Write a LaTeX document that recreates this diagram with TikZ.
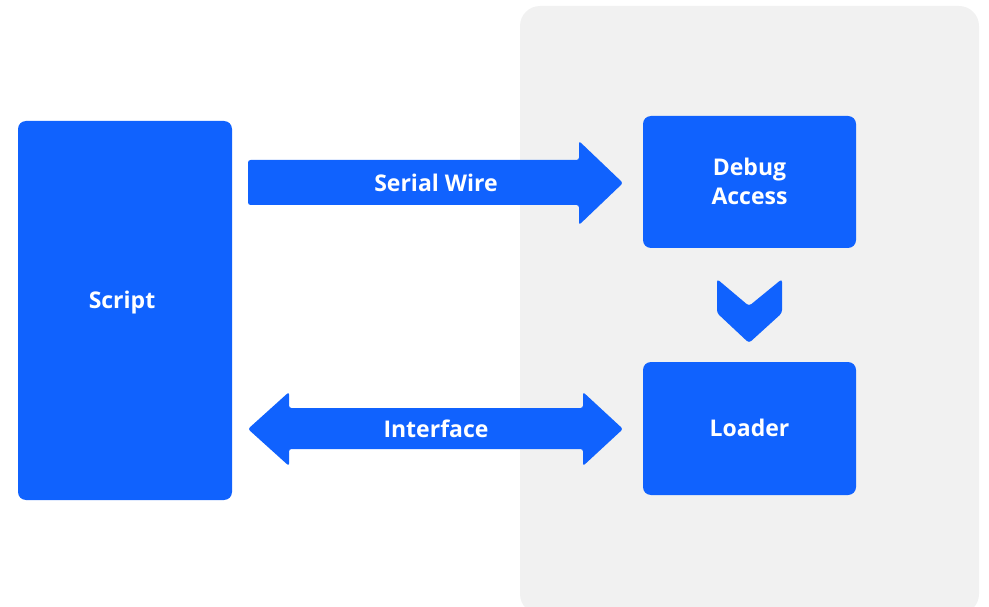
\documentclass[tikz,border=0pt]{standalone}
\usepackage{fontspec}
\setmainfont{Open Sans}
\definecolor{brandblue}{HTML}{1062FE}
\definecolor{panelgray}{HTML}{F1F1F1}
\begin{document}
\begin{tikzpicture}[x=1pt,y=-1pt,
  block/.style={fill=brandblue, rounded corners=8pt},
  label/.style={text=white, font=\fontsize{23}{29}\selectfont\bfseries, align=center},
  bigarrow/.style={fill=brandblue, rounded corners=2.5pt}]
  \useasboundingbox (0,0) rectangle (989,607);
  % right-hand panel
  \begin{scope}
    \clip (0,0) rectangle (989,607);
    \fill[panelgray, rounded corners=20pt] (520,6) rectangle (979,614);
  \end{scope}
  % boxes
  \fill[block] (18,121) rectangle (232,500);
  \node[label] (script) at (122,303) {Script};
  \fill[block] (643,116) rectangle (856,248);
  \node[label] (debug) at (749.5,181) {Debug\\Access};
  \fill[block] (643,362) rectangle (856,495);
  \node[label] (loader) at (749.5,428) {Loader};
  % serial wire arrow
  \fill[bigarrow] (248,160) -- (579,160) -- (579,141) -- (623,183)
    -- (579,225) -- (579,205) -- (248,205) -- cycle;
  \node[label] (serial) at (436,183) {Serial Wire};
  % interface double arrow
  \fill[bigarrow] (248,429) -- (289,392) -- (289,408) -- (583,408) -- (583,392)
    -- (623,429) -- (583,466) -- (583,449) -- (289,449) -- (289,466) -- cycle;
  \node[label] (iface) at (436,429) {Interface};
  % chevron between the two right boxes
  \fill[brandblue, rounded corners=3pt] (717,279) -- (749,306) -- (782,279)
    -- (782,313) -- (749,343) -- (717,313) -- cycle;
\end{tikzpicture}
\end{document}
